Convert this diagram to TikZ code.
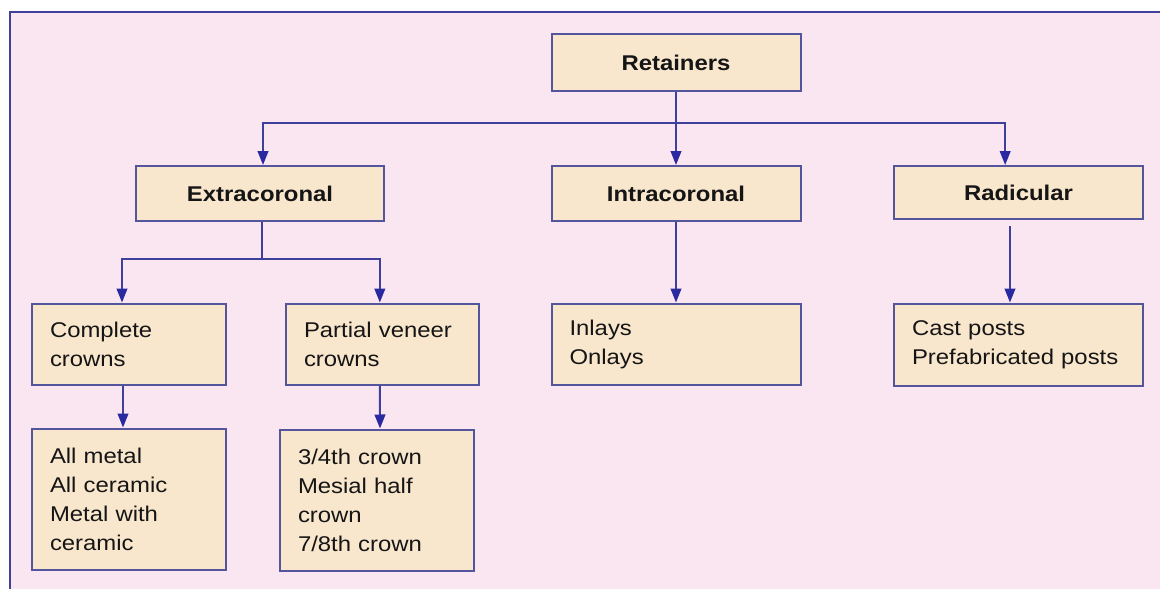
\documentclass[tikz,border=0pt]{standalone}
\usepackage{fontspec}
\setmainfont{Liberation Sans}[FakeStretch=1.12]
\usetikzlibrary{arrows.meta,calc}
\definecolor{bgpink}{HTML}{F9E6F1}
\definecolor{boxfill}{HTML}{F8E6CD}
\definecolor{linec}{HTML}{3F3F9C}
\definecolor{tipc}{HTML}{2A2AA0}
\definecolor{boxline}{HTML}{55559E}
\definecolor{textc}{HTML}{151515}
\tikzset{
  box/.style={draw=boxline, fill=boxfill, line width=1.5pt, rectangle, text=textc},
  title/.style={box, font=\fontsize{16}{21.75}\selectfont\bfseries, inner sep=0pt},
  list/.style={box, align=left, inner xsep=13.5pt, inner ysep=0pt},
  conn/.style={draw=linec, line width=1.5pt},
  arr/.style={conn, -{Triangle[length=10.5pt,width=8pt,color=tipc]}}
}
\begin{document}
\begin{tikzpicture}[x=0.75pt,y=-0.75pt, font=\fontsize{16}{21.75}\selectfont]
\useasboundingbox (0,0) rectangle (1160,589);
\fill[white] (0,0) rectangle (1160,589);
\fill[bgpink] (10,12) rectangle (1160,589);
\draw[conn] (10,589) -- (10,12) -- (1160,12);

% nodes
\node[title, minimum width=186.75pt, minimum height=42.75pt] (ret) at (676,62.5) {Retainers};
\node[title, minimum width=186pt, minimum height=41.25pt] (ext) at (260,193.5) {Extracoronal};
\node[title, minimum width=186.75pt, minimum height=41.25pt] (intra) at (676,193.5) {Intracoronal};
\node[title, minimum width=186.75pt, minimum height=39.75pt] (rad) at (1018.5,192.5) {Radicular};

\node[list, text width=118.5pt, minimum height=60.75pt] (comp) at (129,344) {Complete\\crowns};
\node[list, text width=117.75pt, minimum height=60.75pt] (part) at (382.5,344) {Partial veneer\\crowns};
\node[list, text width=159.75pt, minimum height=60.75pt] (inl) at (676,344) {Inlays\\Onlays};
\node[list, text width=159.75pt, minimum height=61.5pt] (cast) at (1018.5,344.5) {Cast posts\\Prefabricated posts};

\node[list, text width=118.5pt, minimum height=105.75pt] (allm) at (129,499) {All metal\\All ceramic\\Metal with\\ceramic};
\node[list, text width=118.5pt, minimum height=105.75pt] (q34) at (377,500) {3/4th crown\\Mesial half\\crown\\7/8th crown};

% connectors
\coordinate (j1) at (676,123);
\draw[conn] (ret.south) -- (j1);
\draw[arr] (j1) -| ([xshift=2.25pt]ext.north);
\draw[arr] (j1) -- (intra.north);
\draw[arr] (j1) -| ([xshift=-10pt]rad.north);

\coordinate (j2) at (262,259);
\draw[conn] ([xshift=1.5pt]ext.south) -- (j2);
\draw[arr] (j2) -| ([xshift=-5.25pt]comp.north);
\draw[arr] (j2) -| ([xshift=-2pt]part.north);

\draw[arr] (intra.south) -- (inl.north);
\draw[arr] ([xshift=-6.4pt,yshift=-4.5pt]rad.south) -- ([xshift=-6.4pt]cast.north);
\draw[arr] ([xshift=-4.5pt]comp.south) -- ([xshift=-4.5pt]allm.north);
\draw[arr] ([xshift=-2pt]part.south) -- ([xshift=2.25pt]q34.north);
\end{tikzpicture}
\end{document}
